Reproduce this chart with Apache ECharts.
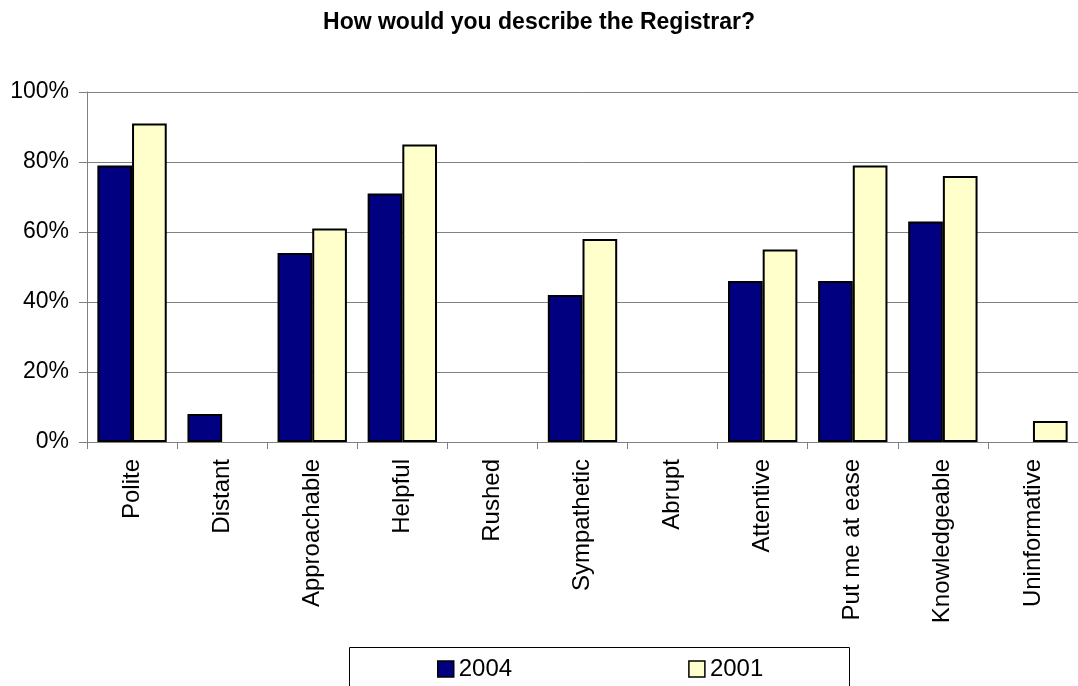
<!DOCTYPE html>
<html>
<head>
<meta charset="utf-8">
<script src="https://cdn.jsdelivr.net/npm/echarts@6/dist/echarts.min.js"></script>
<style>
html,body{margin:0;padding:0;background:#fff;}
#c{width:1078px;height:686px;}
</style>
</head>
<body>
<div id="c"></div>
<script>
const categories = ['Polite','Distant','Approachable','Helpful','Rushed','Sympathetic','Abrupt','Attentive','Put me at ease','Knowledgeable','Uninformative'];
const values2004 = [79, 8, 54, 71, 0, 42, 0, 46, 46, 63, 0];
const values2001 = [91, 0, 61, 85, 0, 58, 0, 55, 79, 76, 6];
const yTicks = [0, 20, 40, 60, 80, 100];

// zero values draw no bar (no border line) as in the original
const toBars = arr => arr.map(v => (v === 0 ? '-' : v));

const font = 'Arial, "Liberation Sans", sans-serif';
const chart = echarts.init(document.getElementById('c'), null, {renderer: 'canvas'});
chart.setOption({
  animation: false,
  backgroundColor: '#fff',
  title: {
    text: 'How would you describe the Registrar?',
    left: 'center',
    top: 6,
    textStyle: {fontFamily: font, fontWeight: 'bold', fontSize: 23, color: '#000'}
  },
  graphic: [{
    type: 'rect',
    shape: {x: 349.5, y: 647.5, width: 500, height: 60},
    style: {fill: '#fff', stroke: '#000', lineWidth: 1},
    z: 0
  }],
  legend: {
    left: 432,
    top: 652,
    padding: 5,
    itemWidth: 16,
    itemHeight: 16,
    itemGap: 176,
    icon: 'rect',
    itemStyle: {borderWidth: 1.5, borderColor: '#000'},
    textStyle: {fontFamily: font, fontSize: 24, color: '#000'},
    z: 5
  },
  grid: {left: 87, top: 92, right: -6, bottom: 244, containLabel: false},
  xAxis: {
    type: 'category',
    data: categories,
    axisLine: {lineStyle: {color: '#808080', width: 1}},
    axisTick: {show: true, length: 7, inside: false, lineStyle: {color: '#808080'}},
    axisLabel: {rotate: 90, margin: 17, fontFamily: font, fontSize: 24, color: '#000', interval: 0},
    splitLine: {show: false}
  },
  yAxis: {
    type: 'value',
    min: yTicks[0],
    max: yTicks[yTicks.length - 1],
    interval: 20,
    axisLine: {show: true, lineStyle: {color: '#808080', width: 1}},
    axisTick: {show: true, length: 8, lineStyle: {color: '#808080'}},
    axisLabel: {margin: 18, fontFamily: font, fontSize: 23, color: '#000', formatter: v => v + '%'},
    splitLine: {show: true, lineStyle: {color: '#808080', width: 1}}
  },
  series: [
    {
      name: '2004', type: 'bar', data: toBars(values2004),
      barGap: '0%', barCategoryGap: '23%',
      itemStyle: {color: '#000080', borderColor: '#000', borderWidth: 2}
    },
    {
      name: '2001', type: 'bar', data: toBars(values2001),
      itemStyle: {color: '#FFFFCC', borderColor: '#000', borderWidth: 2}
    }
  ]
});
</script>
</body>
</html>
